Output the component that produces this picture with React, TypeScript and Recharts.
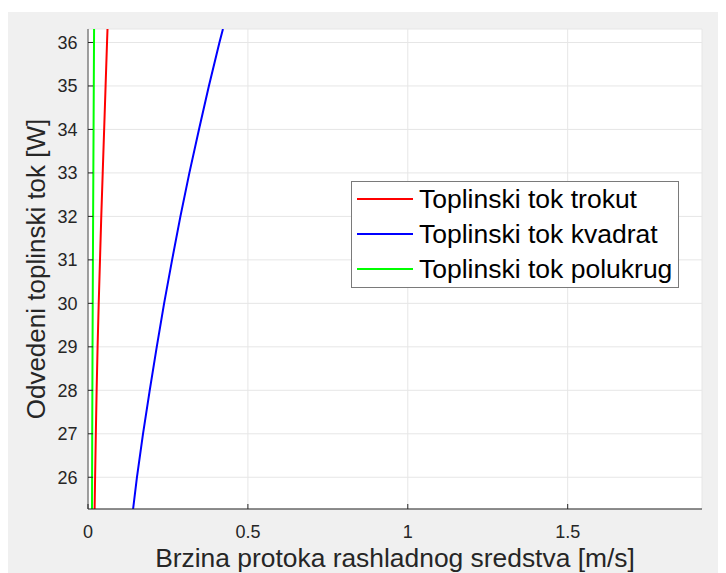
import React from 'react';
import { LineChart, Line, XAxis, YAxis, CartesianGrid, Legend } from 'recharts';

// Heat flux levels [W]
const fluxLevels = [25.27, 26, 27, 28, 29, 30, 31, 32, 33, 34, 35, 36, 36.31];
// Coolant velocity [m/s] for each geometry at the flux levels above
const velTrokut = [0.0207, 0.0222, 0.0245, 0.027, 0.030, 0.0335, 0.0375, 0.0415, 0.046, 0.0505, 0.055, 0.0595, 0.061];
const velKvadrat = [0.141, 0.153, 0.172, 0.193, 0.215, 0.238, 0.263, 0.289, 0.317, 0.347, 0.378, 0.411, 0.422];
const velPolukrug = [0.0125, 0.0128, 0.0132, 0.0137, 0.0142, 0.0148, 0.0154, 0.016, 0.0167, 0.0174, 0.0181, 0.0188, 0.019];

const xTicks = [0, 0.5, 1, 1.5];
const yTicks = [26, 27, 28, 29, 30, 31, 32, 33, 34, 35, 36];
const xDomain = [0, 1.92];
const yDomain = [25.27, 36.31];

const xLabel = 'Brzina protoka rashladnog sredstva [m/s]';
const yLabel = 'Odvedeni toplinski tok [W]';

const series = [
  { name: 'Toplinski tok trokut', color: '#ff0000', vel: velTrokut },
  { name: 'Toplinski tok kvadrat', color: '#0000ff', vel: velKvadrat },
  { name: 'Toplinski tok polukrug', color: '#00ff00', vel: velPolukrug },
];

const FONT = '"Liberation Sans", Arial, Helvetica, sans-serif';
const TXT = '#262626';

const YTick = (props: any) => {
  const { x, y, payload } = props;
  return (
    <g>
      <line x1={x + 10.5} x2={x + 15.5} y1={y} y2={y} stroke={TXT} strokeWidth={1} />
      <text x={x} y={y} dy="0.36em" textAnchor="end" fill={TXT} fontSize={18} fontFamily={FONT}>
        {payload.value}
      </text>
    </g>
  );
};

const XTick = (props: any) => {
  const { x, y, payload } = props;
  return (
    <g>
      <line x1={x} x2={x} y1={y - 16} y2={y - 21} stroke={TXT} strokeWidth={1} />
      <text x={x} y={y} dy="0.72em" textAnchor="middle" fill={TXT} fontSize={18} fontFamily={FONT}>
        {payload.value}
      </text>
    </g>
  );
};

const YLabel = (props: any) => {
  const vb = props.viewBox || { x: 0, y: 0, width: 0, height: 0 };
  const cx = vb.x + 37;
  const cy = vb.y + vb.height / 2;
  return (
    <text
      x={cx}
      y={cy}
      transform={`rotate(-90, ${cx}, ${cy})`}
      textAnchor="middle"
      fill={TXT}
      fontSize={26}
      fontFamily={FONT}
    >
      {yLabel}
    </text>
  );
};

const LegendBox = () => {
  return (
    <div
      style={{
        width: 326,
        height: 104.5,
        border: '1px solid #7a7a7a',
        background: '#ffffff',
        paddingTop: 0,
        fontFamily: FONT,
        boxSizing: 'content-box',
      }}
    >
      {series.map((s) => (
        <div key={s.name} style={{ display: 'flex', alignItems: 'center', height: 34.8 }}>
          <div style={{ marginLeft: 5, width: 56, height: 2, background: s.color, flex: 'none' }} />
          <span style={{ marginLeft: 6, fontSize: 26.5, lineHeight: '30px', color: '#000', whiteSpace: 'nowrap' }}>{s.name}</span>
        </div>
      ))}
    </div>
  );
};

export default function App() {
  return (
    <div style={{ paddingTop: 4 }}>
      <div style={{ width: 718, height: 561, background: '#f0f0f0' }}>
        <LineChart width={718} height={561} margin={{ top: 17, right: 24, bottom: 0, left: 0 }}>
          <CartesianGrid stroke="#e6e6e6" fill="#ffffff" />
          <XAxis
            type="number"
            dataKey="v"
            domain={xDomain}
            ticks={xTicks}
            allowDataOverflow
            height={64}
            tickSize={0}
            tickMargin={16}
            tick={<XTick />}
            axisLine={{ stroke: TXT }}
            label={{ value: xLabel, position: 'insideBottom', offset: 6, fill: TXT, fontSize: 26.4, fontFamily: FONT }}
          />
          <YAxis
            type="number"
            dataKey="q"
            domain={yDomain}
            ticks={yTicks}
            allowDataOverflow
            width={80}
            tickSize={0}
            tickMargin={10.5}
            tick={<YTick />}
            axisLine={{ stroke: '#4d4d4d' }}
            label={<YLabel />}
          />
          <Legend
            layout="horizontal"
            verticalAlign="middle"
            align="center"
            content={<LegendBox />}
            wrapperStyle={{ position: 'absolute', left: 343, top: 169, width: 328, height: 106.5 }}
          />
          {series.map((s) => (
            <Line
              key={s.name}
              name={s.name}
              data={fluxLevels.map((q, i) => ({ v: s.vel[i], q }))}
              dataKey="q"
              stroke={s.color}
              strokeWidth={2}
              dot={false}
              type="linear"
              isAnimationActive={false}
            />
          ))}
        </LineChart>
      </div>
    </div>
  );
}
